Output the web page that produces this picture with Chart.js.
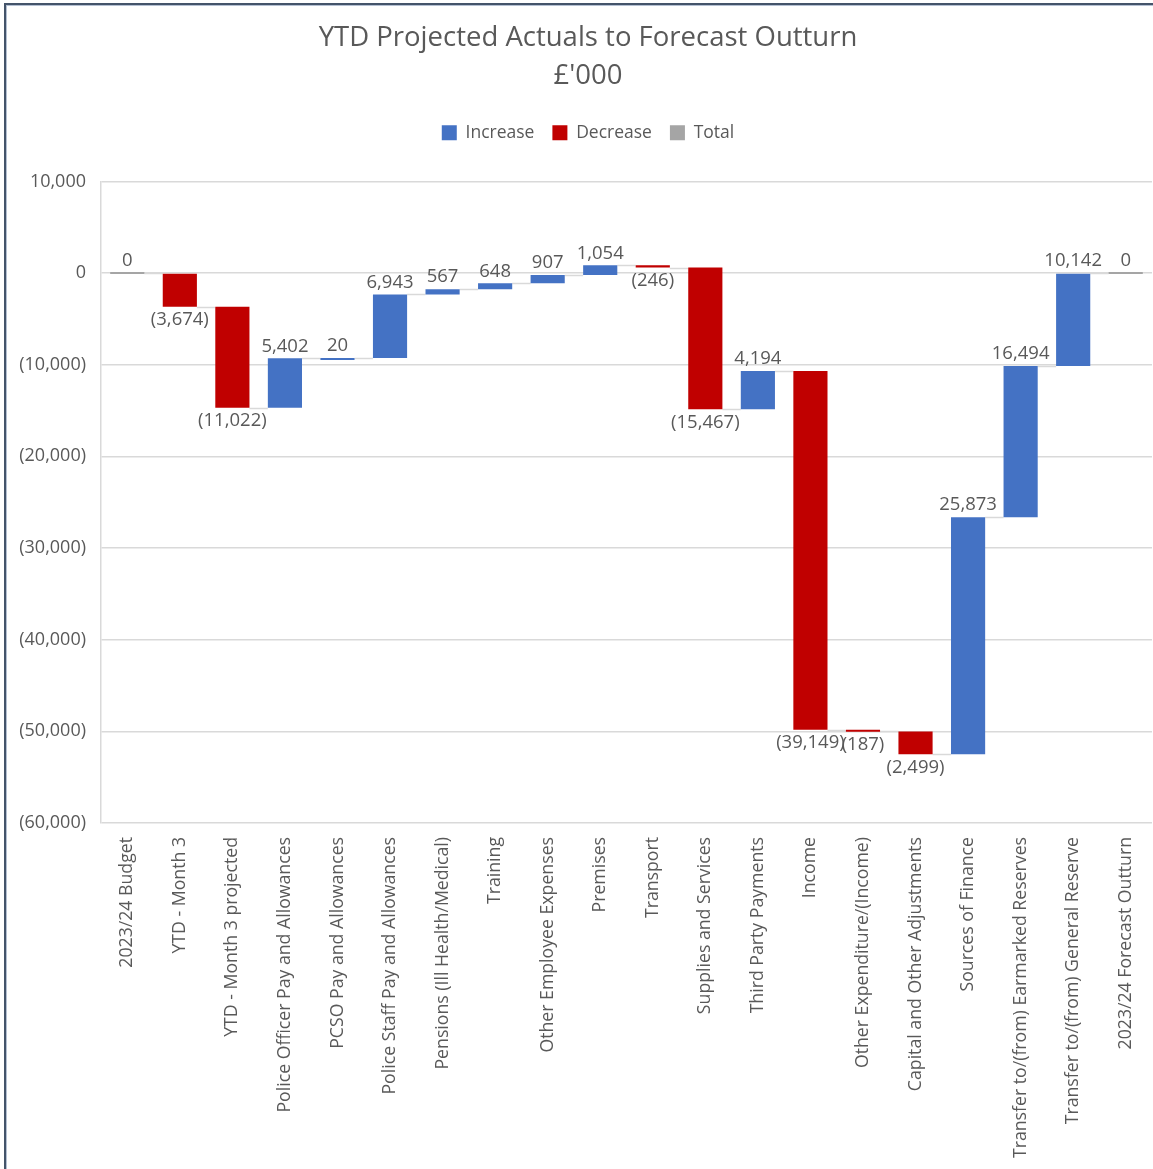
<!DOCTYPE html>
<html>
<head>
<meta charset="utf-8">
<script src="https://cdn.jsdelivr.net/npm/chart.js@4.4.0/dist/chart.umd.min.js"></script>
<style>
  body { margin: 0; background: #fff; }
  #wrap { position: relative; width: 1153px; height: 1169px; overflow: hidden; }
  #frame {
    position: absolute; left: 4px; top: 3px; right: -10px; bottom: -10px;
    border-left: 2px solid #44546a; border-top: 2px solid #44546a;
    box-shadow: inset 1px 1px 0 #b4c0d2; pointer-events: none;
  }
</style>
</head>
<body>
<div id="wrap">
  <!-- the original chart is a little wider than the visible crop -->
  <canvas id="waterfall" width="1176" height="1169"></canvas>
  <div id="frame"></div>
</div>
<script>
// categories along the x axis
const categories = [
  '2023/24 Budget', 'YTD - Month 3', 'YTD - Month 3 projected',
  'Police Officer Pay and Allowances', 'PCSO Pay and Allowances',
  'Police Staff Pay and Allowances', 'Pensions (Ill Health/Medical)', 'Training',
  'Other Employee Expenses', 'Premises', 'Transport', 'Supplies and Services',
  'Third Party Payments', 'Income', 'Other Expenditure/(Income)',
  'Capital and Other Adjustments', 'Sources of Finance',
  'Transfer to/(from) Earmarked Reserves', 'Transfer to/(from) General Reserve',
  '2023/24 Forecast Outturn'
];
// change for each step (£'000)
const changes = [0, -3674, -11022, 5402, 20, 6943, 567, 648, 907, 1054, -246,
  -15467, 4194, -39149, -187, -2499, 25873, 16494, 10142, 0];
// which steps are totals
const totalIdx = [0, 19];
const yTicks = { min: -60000, max: 10000, step: 10000 };

const fontFam = '"Open Sans", "Liberation Sans", sans-serif';
const textCol = '#595959';

function fmt(v) {
  const s = Math.abs(v).toLocaleString('en-GB');
  return v < 0 ? '(' + s + ')' : s;
}

// build floating ranges
let running = 0;
const ranges = [], kinds = [], ends = [];
changes.forEach((c, i) => {
  if (totalIdx.includes(i)) {
    ranges.push([0, c]); kinds.push('total'); running = c;
  } else {
    ranges.push([running, running + c]); kinds.push(c >= 0 ? 'inc' : 'dec'); running += c;
  }
  ends.push(running);
});

const pick = k => ranges.map((r, i) => kinds[i] === k ? r : null);

function barAt(chart, i) {
  for (let d = 0; d < chart.data.datasets.length; d++) {
    if (chart.data.datasets[d].data[i] !== null) return chart.getDatasetMeta(d).data[i];
  }
}

const waterfallExtras = {
  id: 'waterfallExtras',
  beforeInit(chart) {
    // extra room under the legend, like the Excel layout
    const fit = chart.legend.fit;
    chart.legend.fit = function () { fit.call(this); this.height += 30; };
  },
  afterLayout(chart) {
    // centre title and legend over the full (uncropped) chart width
    chart.titleBlock.left += 24;
    chart.legend.left += 24;
  },
  beforeDatasetsDraw(chart) {
    const ctx = chart.ctx, y = chart.scales.y;
    ctx.save();
    ctx.strokeStyle = '#d9d9d9';
    ctx.lineWidth = 1.5;
    for (let i = 0; i < categories.length - 1; i++) {
      const a = barAt(chart, i), b = barAt(chart, i + 1);
      const py = Math.round(y.getPixelForValue(ends[i])) + 0.5;
      ctx.beginPath();
      ctx.moveTo(a.x + a.width / 2, py);
      ctx.lineTo(b.x - b.width / 2, py);
      ctx.stroke();
    }
    ctx.restore();
  },
  afterDatasetsDraw(chart) {
    const ctx = chart.ctx, y = chart.scales.y;
    ctx.save();
    ctx.font = '18.5px ' + fontFam;
    ctx.fillStyle = textCol;
    ctx.textAlign = 'center';
    ctx.textBaseline = 'middle';
    categories.forEach((_, i) => {
      const r = ranges[i];
      const el = barAt(chart, i);
      const top = y.getPixelForValue(Math.max(r[0], r[1]));
      const bot = y.getPixelForValue(Math.min(r[0], r[1]));
      const ly = kinds[i] === 'dec' ? bot + 13 : top - 12;
      ctx.fillText(fmt(changes[i]), el.x, ly);
    });
    ctx.restore();
  }
};

new Chart(document.getElementById('waterfall'), {
  type: 'bar',
  data: {
    labels: categories,
    datasets: [
      { label: 'Increase', data: pick('inc'), backgroundColor: '#4472c4' },
      { label: 'Decrease', data: pick('dec'), backgroundColor: '#c00000' },
      { label: 'Total', data: pick('total'), backgroundColor: '#a5a5a5' }
    ]
  },
  options: {
    responsive: false,
    animation: false,
    layout: { padding: { left: 0, right: 24, top: 0, bottom: 0 } },
    datasets: { bar: { categoryPercentage: 1, barPercentage: 0.65, minBarLength: 2 } },
    plugins: {
      tooltip: { enabled: false },
      title: {
        display: true,
        text: ['YTD Projected Actuals to Forecast Outturn', "£'000"],
        color: textCol,
        font: { family: fontFam, size: 27.5, weight: 'normal', lineHeight: 1.38 },
        padding: { top: 19, bottom: 11 }
      },
      legend: {
        position: 'top',
        labels: {
          color: textCol,
          font: { family: fontFam, size: 17.5 },
          boxWidth: 15, boxHeight: 15, padding: 18
        }
      }
    },
    scales: {
      x: {
        stacked: true,
        grid: { display: false, drawTicks: false },
        border: { display: false },
        ticks: {
          color: textCol, font: { family: fontFam, size: 17.7 },
          minRotation: 90, maxRotation: 90, padding: 14, autoSkip: false
        },
        afterFit(s) {
          s.height = 1169 - 823;
          s.paddingLeft = 0;
          s.paddingRight = 0;
        }
      },
      y: {
        min: yTicks.min, max: yTicks.max,
        grid: { color: '#d9d9d9', lineWidth: 1.5, drawTicks: false },
        border: { display: true, color: '#d9d9d9', width: 1.5 },
        ticks: {
          stepSize: yTicks.step, color: textCol, padding: 15,
          font: { family: fontFam, size: 18 },
          callback: v => fmt(v)
        },
        afterFit(s) { s.width = 101; }
      }
    }
  },
  plugins: [waterfallExtras]
});
</script>
</body>
</html>
